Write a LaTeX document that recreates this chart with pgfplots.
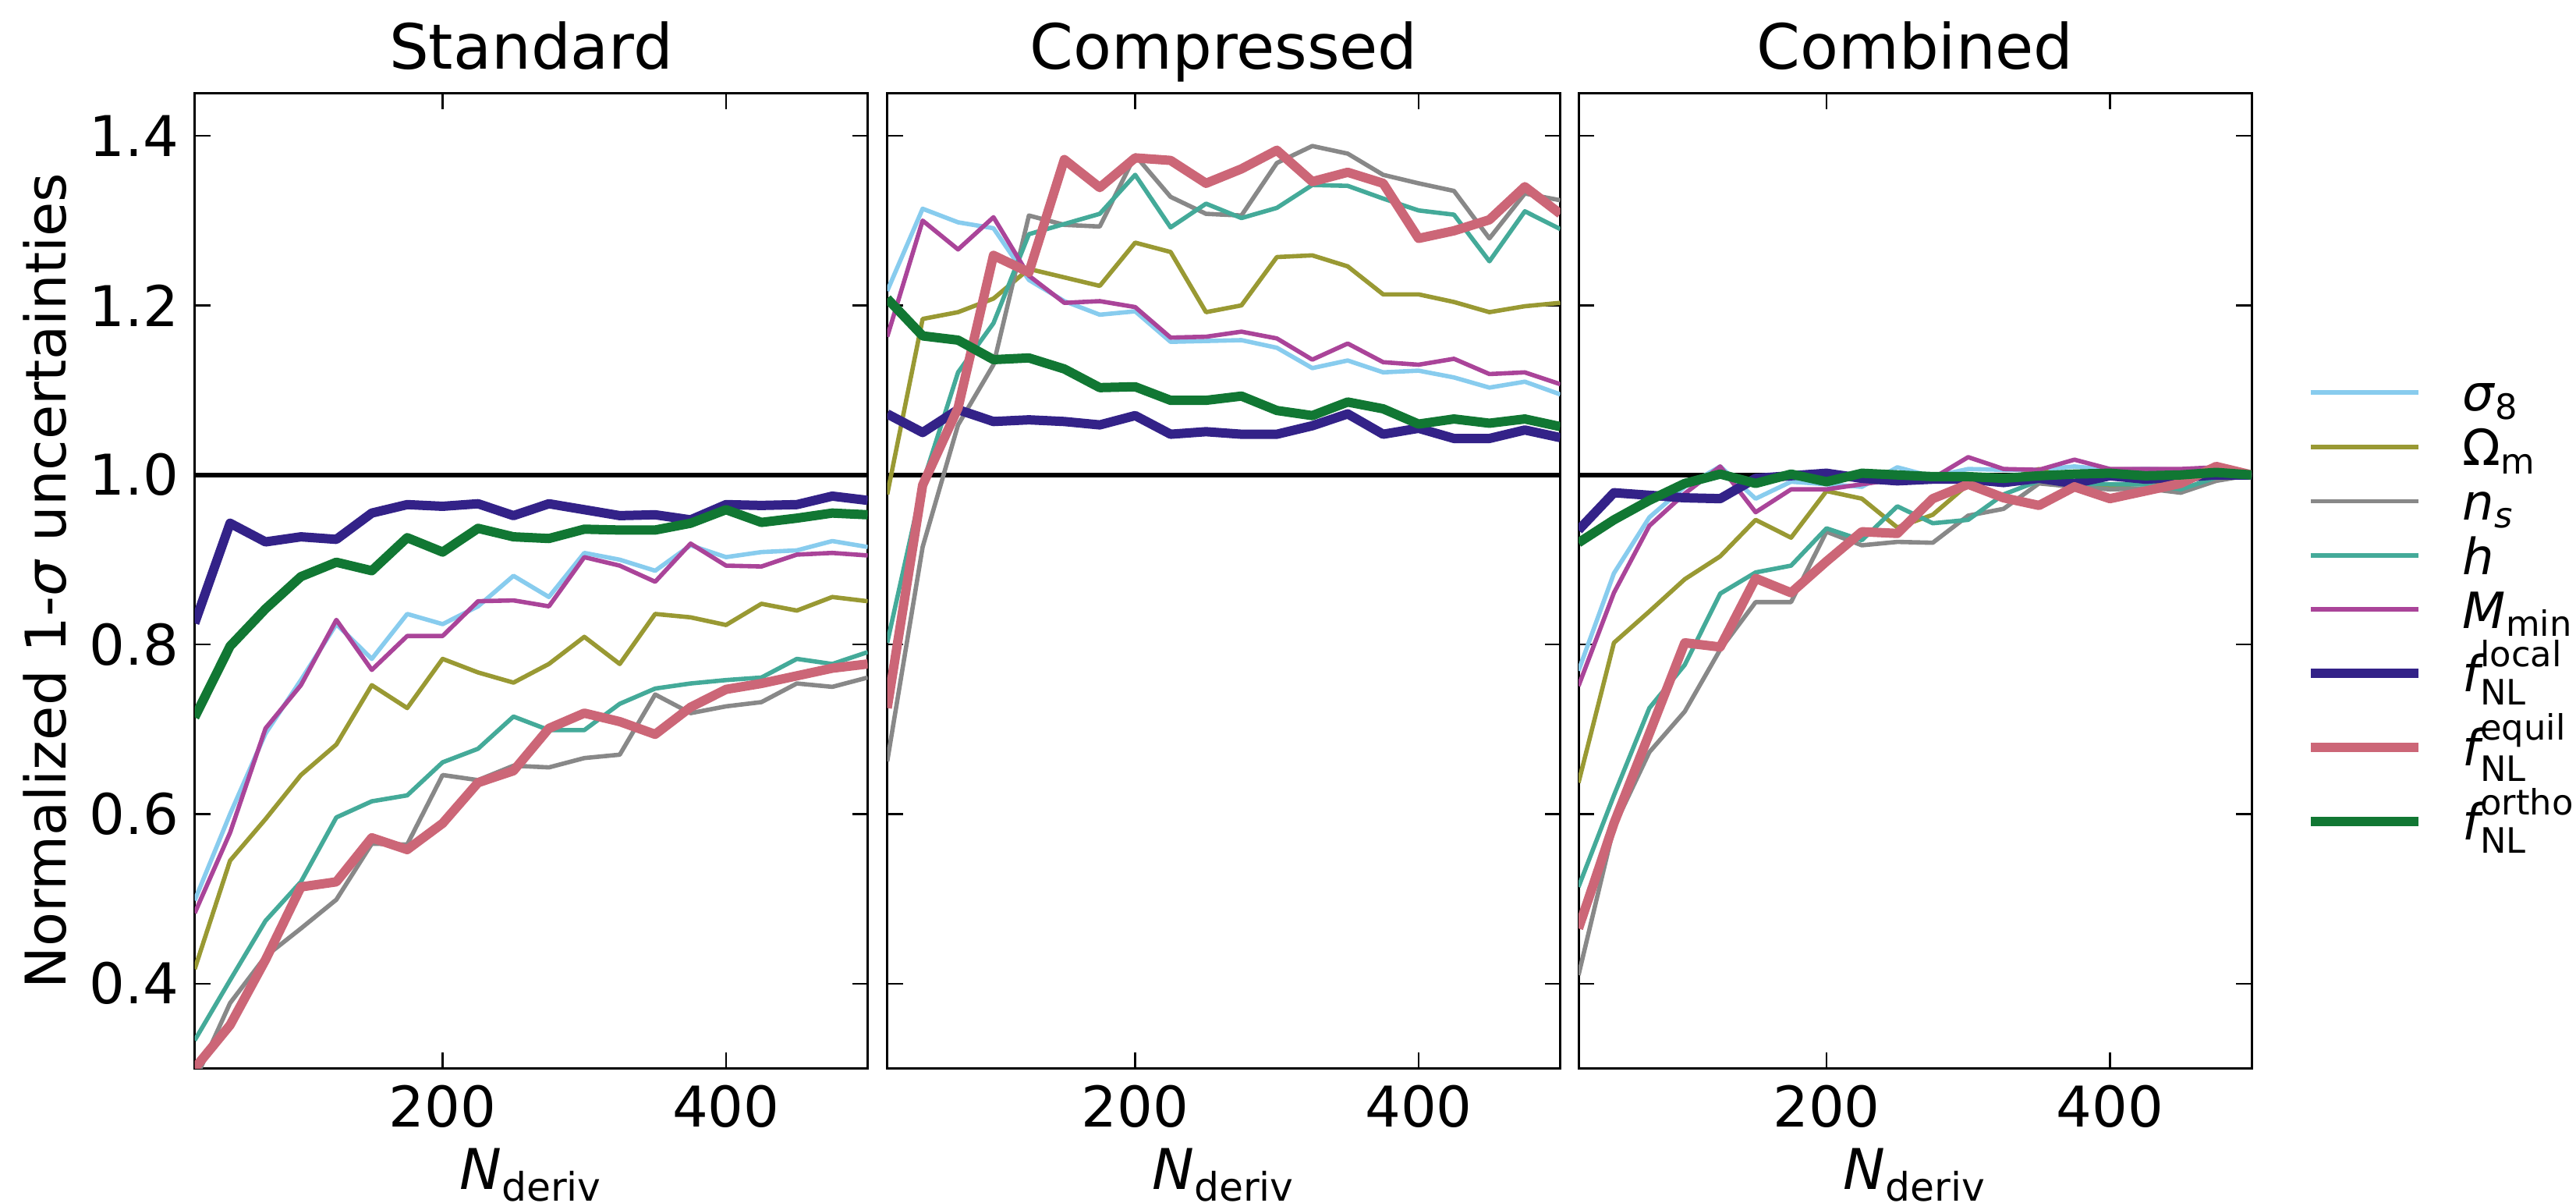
\documentclass[border=0pt]{standalone}
\usepackage{fontspec}
\setmainfont{DejaVu Sans}
\usepackage{amsmath}
\usepackage{pgfplots}
\usepackage{pgfplotstable}
\pgfplotsset{compat=1.18}

\definecolor{cs8}{HTML}{88CCEE}
\definecolor{cOm}{HTML}{999933}
\definecolor{cns}{HTML}{888888}
\definecolor{ch}{HTML}{44AA99}
\definecolor{cMm}{HTML}{AA4499}
\definecolor{cloc}{HTML}{332288}
\definecolor{ceq}{HTML}{CC6677}
\definecolor{cort}{HTML}{117733}

% Standard
\pgfplotstableread{
N   s8    Om    ns    h     Mmin  floc  feq   fort
25  0.498 0.417 0.285 0.333 0.483 0.825 0.300 0.714
50  0.600 0.545 0.377 0.404 0.578 0.943 0.351 0.798
75  0.695 0.594 0.432 0.474 0.701 0.921 0.428 0.842
100 0.758 0.646 0.465 0.520 0.752 0.927 0.514 0.880
125 0.824 0.682 0.499 0.596 0.829 0.924 0.520 0.897
150 0.783 0.752 0.565 0.615 0.770 0.955 0.572 0.887
175 0.836 0.725 0.564 0.622 0.810 0.965 0.558 0.926
200 0.824 0.783 0.646 0.661 0.810 0.963 0.589 0.909
225 0.845 0.767 0.640 0.677 0.851 0.966 0.637 0.937
250 0.881 0.755 0.657 0.715 0.852 0.952 0.651 0.927
275 0.856 0.777 0.655 0.699 0.845 0.966 0.701 0.925
300 0.908 0.809 0.666 0.699 0.903 0.959 0.719 0.936
325 0.900 0.777 0.670 0.730 0.893 0.952 0.709 0.935
350 0.887 0.836 0.741 0.748 0.874 0.953 0.694 0.935
375 0.917 0.832 0.719 0.754 0.919 0.947 0.726 0.943
400 0.903 0.823 0.727 0.758 0.893 0.965 0.747 0.959
425 0.909 0.848 0.732 0.761 0.892 0.964 0.754 0.944
450 0.911 0.840 0.754 0.783 0.906 0.965 0.763 0.949
475 0.922 0.856 0.750 0.777 0.908 0.975 0.772 0.955
500 0.915 0.851 0.761 0.791 0.905 0.970 0.777 0.953
}\stdtab

% Compressed
\pgfplotstableread{
N   s8    Om    ns    h     Mmin  floc  feq   fort
25  1.217 0.977 0.662 0.802 1.163 1.072 0.725 1.208
50  1.314 1.184 0.915 0.990 1.300 1.050 0.988 1.164
75  1.298 1.192 1.059 1.121 1.266 1.077 1.079 1.159
100 1.291 1.208 1.130 1.179 1.304 1.063 1.259 1.136
125 1.230 1.243 1.306 1.284 1.235 1.065 1.239 1.138
150 1.205 1.233 1.295 1.296 1.203 1.063 1.372 1.125
175 1.189 1.223 1.293 1.308 1.205 1.059 1.339 1.103
200 1.193 1.274 1.377 1.354 1.198 1.070 1.374 1.104
225 1.157 1.263 1.328 1.292 1.162 1.048 1.371 1.088
250 1.158 1.192 1.308 1.320 1.163 1.051 1.344 1.088
275 1.159 1.200 1.306 1.303 1.169 1.048 1.361 1.093
300 1.150 1.257 1.368 1.315 1.161 1.048 1.383 1.076
325 1.126 1.259 1.388 1.342 1.136 1.058 1.346 1.070
350 1.135 1.246 1.379 1.341 1.155 1.072 1.357 1.086
375 1.121 1.213 1.354 1.326 1.133 1.048 1.344 1.078
400 1.123 1.213 1.344 1.312 1.130 1.055 1.279 1.060
425 1.115 1.204 1.335 1.307 1.137 1.043 1.288 1.066
450 1.103 1.192 1.279 1.252 1.119 1.043 1.301 1.061
475 1.110 1.199 1.332 1.311 1.121 1.053 1.340 1.066
500 1.095 1.203 1.324 1.290 1.107 1.044 1.308 1.057
}\comptab

% Combined
\pgfplotstableread{
N   s8    Om    ns    h     Mmin  floc  feq   fort
25  0.769 0.637 0.410 0.514 0.751 0.935 0.465 0.920
50  0.884 0.802 0.585 0.622 0.861 0.979 0.589 0.947
75  0.950 0.839 0.673 0.725 0.940 0.976 0.695 0.970
100 0.986 0.877 0.721 0.776 0.978 0.973 0.802 0.990
125 1.010 0.904 0.794 0.860 1.010 0.972 0.797 1.001
150 0.972 0.947 0.850 0.885 0.956 0.996 0.878 0.990
175 0.992 0.926 0.850 0.893 0.983 0.999 0.861 1.001
200 0.989 0.981 0.933 0.937 0.983 1.002 0.898 0.992
225 0.986 0.972 0.917 0.923 0.989 0.996 0.933 1.002
250 1.009 0.938 0.921 0.963 0.995 0.993 0.931 1.000
275 0.998 0.953 0.920 0.943 0.996 0.995 0.972 0.998
300 1.007 0.989 0.952 0.947 1.021 0.995 0.989 0.998
325 1.006 0.993 0.960 0.977 1.007 0.991 0.973 0.996
350 1.006 1.007 0.990 0.993 1.006 0.996 0.964 0.999
375 1.010 0.992 0.986 0.990 1.018 0.990 0.986 1.001
400 1.006 0.987 0.983 0.989 1.007 0.999 0.972 1.002
425 1.007 0.990 0.984 0.989 1.007 0.995 0.981 0.999
450 1.006 0.996 0.979 0.983 1.007 0.997 0.990 1.000
475 1.009 0.998 0.993 0.997 1.009 1.000 1.010 1.003
500 1.000 1.000 1.000 1.000 1.000 1.000 1.000 1.000
}\combtab

% struts for legend rows: simple entries and f_NL entries
\newcommand{\lstrut}{\rule[-2.5pt]{0pt}{17pt}}
\newcommand{\fstrut}{\rule[-6pt]{0pt}{23.5pt}}

\pgfplotsset{
  pthin/.style={line width=1.4pt, line join=round},
  pthick/.style={line width=3pt, line join=round},
  panel/.style={
    scale only axis, width=215.75pt, height=312.4pt,
    xmin=25, xmax=500, ymin=0.3, ymax=1.45,
    xtick={200,400}, ytick={0.4,0.6,0.8,1.0,1.2,1.4},
    tick align=inside, major tick length=5pt,
    every tick/.style={black, line width=0.6pt},
    axis line style={line width=0.75pt},
    no markers,
    /pgf/number format/assume math mode=true,
    yticklabel style={/pgf/number format/.cd, fixed, precision=1, fixed zerofill, /tikz/.cd,
      anchor=east, inner sep=0pt, xshift=-4.9pt},
    xticklabel style={anchor=base, inner sep=0pt, yshift=-18.9pt},
    every tick label/.append style={font=\fontsize{18}{18}\selectfont},
    every axis title/.style={at={(0.5,1)}, anchor=base, yshift=7.9pt,
      font=\fontsize{20}{20}\selectfont},
    xlabel={\textit{N}\textsubscript{deriv}},
    every axis x label/.style={at={(0.5,0)}, anchor=base, yshift=-38.8pt,
      font=\fontsize{18}{18}\selectfont},
  },
}

\begin{document}
\begin{tikzpicture}
\useasboundingbox (-62.4pt,-43.15pt) rectangle (763.35pt,342.35pt);

\begin{axis}[panel, at={(0pt,0pt)}, title={Standard},
  ylabel={Normalized 1-\textit{σ} uncertainties},
  every axis y label/.style={at={([xshift=-41.15pt]axis description cs:0,0.5)},
    rotate=90, anchor=base, font=\fontsize{18}{18}\selectfont}]
\addplot[black, line width=1.5pt] coordinates {(25,1) (500,1)};
\addplot[pthin, cs8]   table[x=N, y=s8]   {\stdtab};
\addplot[pthin, cOm]   table[x=N, y=Om]   {\stdtab};
\addplot[pthin, cns]   table[x=N, y=ns]   {\stdtab};
\addplot[pthin, ch]    table[x=N, y=h]    {\stdtab};
\addplot[pthin, cMm]   table[x=N, y=Mmin] {\stdtab};
\addplot[pthick, cloc] table[x=N, y=floc] {\stdtab};
\addplot[pthick, ceq]  table[x=N, y=feq]  {\stdtab};
\addplot[pthick, cort] table[x=N, y=fort] {\stdtab};
\end{axis}

\begin{axis}[panel, at={(222pt,0pt)}, title={Compressed}, yticklabels={}]
\addplot[black, line width=1.5pt] coordinates {(25,1) (500,1)};
\addplot[pthin, cs8]   table[x=N, y=s8]   {\comptab};
\addplot[pthin, cOm]   table[x=N, y=Om]   {\comptab};
\addplot[pthin, cns]   table[x=N, y=ns]   {\comptab};
\addplot[pthin, ch]    table[x=N, y=h]    {\comptab};
\addplot[pthin, cMm]   table[x=N, y=Mmin] {\comptab};
\addplot[pthick, cloc] table[x=N, y=floc] {\comptab};
\addplot[pthick, ceq]  table[x=N, y=feq]  {\comptab};
\addplot[pthick, cort] table[x=N, y=fort] {\comptab};
\end{axis}

\begin{axis}[panel, at={(443.6pt,0pt)}, title={Combined}, yticklabels={},
  legend style={at={(1,0.468)}, anchor=west, xshift=17.25pt, draw=none, fill=none,
    inner sep=0pt, row sep=0.25pt, column sep=12.75pt,
    font=\fontsize{16}{16}\selectfont,
    nodes={inner sep=0pt, text depth=, text height=}},
  legend cell align=left,
  legend image code/.code={\draw[#1] (0pt,0pt) -- (34.5pt,0pt);}]
\addplot[black, line width=1.5pt, forget plot] coordinates {(25,1) (500,1)};
\addplot[pthin, cs8]   table[x=N, y=s8]   {\combtab};
\addlegendentry{\lstrut\textit{σ}\textsubscript{8}}
\addplot[pthin, cOm]   table[x=N, y=Om]   {\combtab};
\addlegendentry{\lstrut Ω\textsubscript{m}}
\addplot[pthin, cns]   table[x=N, y=ns]   {\combtab};
\addlegendentry{\lstrut\textit{n}\textsubscript{\textit{s}}}
\addplot[pthin, ch]    table[x=N, y=h]    {\combtab};
\addlegendentry{\lstrut\textit{h}}
\addplot[pthin, cMm]   table[x=N, y=Mmin] {\combtab};
\addlegendentry{\lstrut\textit{M}\textsubscript{min}}
\addplot[pthick, cloc] table[x=N, y=floc] {\combtab};
\addlegendentry{\fstrut$\textit{f}^{\text{local}}_{\text{NL}}$}
\addplot[pthick, ceq]  table[x=N, y=feq]  {\combtab};
\addlegendentry{\fstrut$\textit{f}^{\text{equil}}_{\text{NL}}$}
\addplot[pthick, cort] table[x=N, y=fort] {\combtab};
\addlegendentry{\fstrut$\textit{f}^{\text{ortho}}_{\text{NL}}$}
\end{axis}
\end{tikzpicture}
\end{document}
